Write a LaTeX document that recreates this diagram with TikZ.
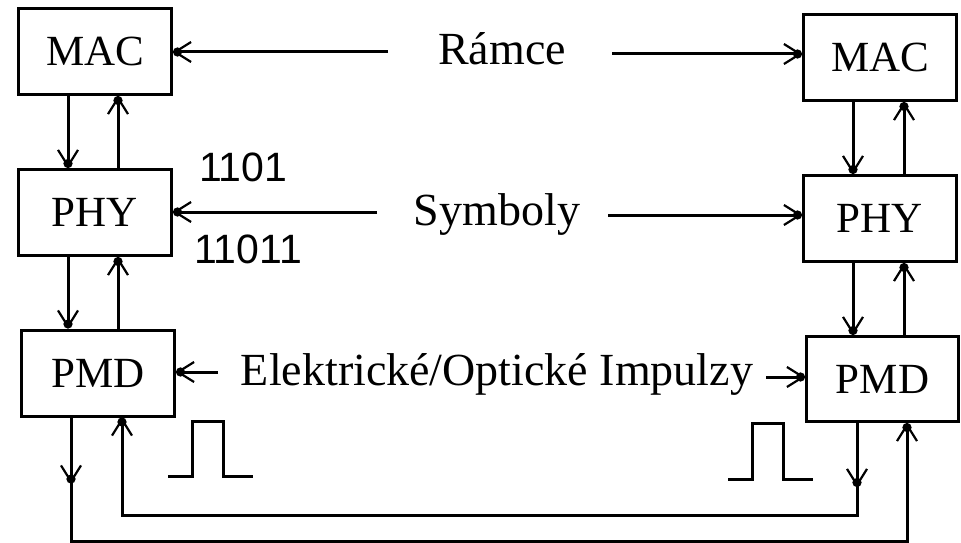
\documentclass[tikz,border=0pt]{standalone}
\usepackage{fontspec}
\setmainfont{Liberation Serif}
\newfontfamily\digitfont{Liberation Sans}
\usetikzlibrary{arrows.meta,decorations.markings}

\tikzset{
  dotbarb/.tip={Straight Barb[length=16pt,width=20pt,line width=2.2pt,sep=-9pt]Circle[length=9pt]},
  layer/.style={draw, line width=3pt, minimum width=153pt, minimum height=86pt,
    inner sep=0pt, font=\fontsize{43}{43}\selectfont},
  conn/.style={line width=3pt, -{dotbarb}},
  wire/.style={line width=3pt, line join=miter},
  midtip/.style={postaction={decorate}, decoration={markings,
    mark=at position #1 with {\arrow{dotbarb}}}},
  label/.style={inner sep=0pt, anchor=base, font=\fontsize{46}{46}\selectfont},
  code/.style={inner sep=0pt, anchor=base west,
    font=\digitfont\fontsize{41}{41}\selectfont},
}

\begin{document}
\begin{tikzpicture}[x=1pt,y=-1pt]
\useasboundingbox[fill=white] (0,0) rectangle (961,543);

% protocol layers of both stations
\node[layer] (lmac) at (95,51.5)  {MAC};
\node[layer] (lphy) at (95,212.5) {PHY};
\node[layer] (lpmd) at (98,373)   {PMD};
\node[layer] (rmac) at (880,57.5) {MAC};
\node[layer] (rphy) at (880,218.5){PHY};
\node[layer, minimum width=152pt, minimum height=85pt] (rpmd) at (882.5,379) {PMD};

% peer-level labels
\node[label] (ramce) at (502,65)  {Rámce};
\node[label] (symb)  at (497,225) {Symboly};
\node[label] (impl)  at (497,385) {Elektrické/Optické Impulzy};
\node[code] (c4) at (199,181) {1101};
\node[code] (c5) at (194,263) {11011};

% free ends of the horizontal arrows
\coordinate (ra) at (388,52);
\coordinate (rb) at (612,54);
\coordinate (sa) at (377,212);
\coordinate (sb) at (608,215);
\coordinate (ia) at (218,372);
\coordinate (ib) at (766,377);

\draw[conn] (ra) -- (ra -| lmac.east);
\draw[conn] (rb) -- (rb -| rmac.west);
\draw[conn] (sa) -- (sa -| lphy.east);
\draw[conn] (sb) -- (sb -| rphy.west);
\draw[conn] (ia) -- (ia -| lpmd.east);
\draw[conn] (ib) -- (ib -| rpmd.west);

% vertical links, left station
\draw[conn] ([xshift=-27pt]lmac.south) -- ([xshift=-27pt]lmac.south |- lphy.north);
\draw[conn] ([xshift=23pt]lphy.north) -- ([xshift=23pt]lmac.south);
\draw[conn] ([xshift=-27pt]lphy.south) -- ([xshift=-27pt]lphy.south |- lpmd.north);
\draw[conn] ([xshift=23pt]lphy.south |- lpmd.north) -- ([xshift=23pt]lphy.south);

% vertical links, right station
\draw[conn] ([xshift=-27pt]rmac.south) -- ([xshift=-27pt]rmac.south |- rphy.north);
\draw[conn] ([xshift=24pt]rphy.north) -- ([xshift=24pt]rmac.south);
\draw[conn] ([xshift=-27pt]rphy.south) -- ([xshift=-27pt]rphy.south |- rpmd.north);
\draw[conn] ([xshift=24pt]rphy.south |- rpmd.north) -- ([xshift=24pt]rphy.south);

% medium between the two PMD layers
\coordinate (outer) at (0,541);
\coordinate (inner) at (0,515);
\draw[conn, line join=miter, midtip=66pt]
  ([xshift=-27pt]lpmd.south) -- ([xshift=-27pt]lpmd.south |- outer)
  -- ([xshift=24.5pt]rpmd.south |- outer) -- ([xshift=24.5pt]rpmd.south);
\draw[conn, line join=miter, midtip=64pt]
  ([xshift=-25.5pt]rpmd.south) -- ([xshift=-25.5pt]rpmd.south |- inner)
  -- ([xshift=24pt]lpmd.south |- inner) -- ([xshift=24pt]lpmd.south);

% signal pulses
\draw[wire] (168,476) -- (192,476) -- (192,421) -- (223,421) -- (223,476) -- (253,476);
\draw[wire] (728,479) -- (752,479) -- (752,423) -- (783,423) -- (783,479) -- (813,479);
\end{tikzpicture}
\end{document}
